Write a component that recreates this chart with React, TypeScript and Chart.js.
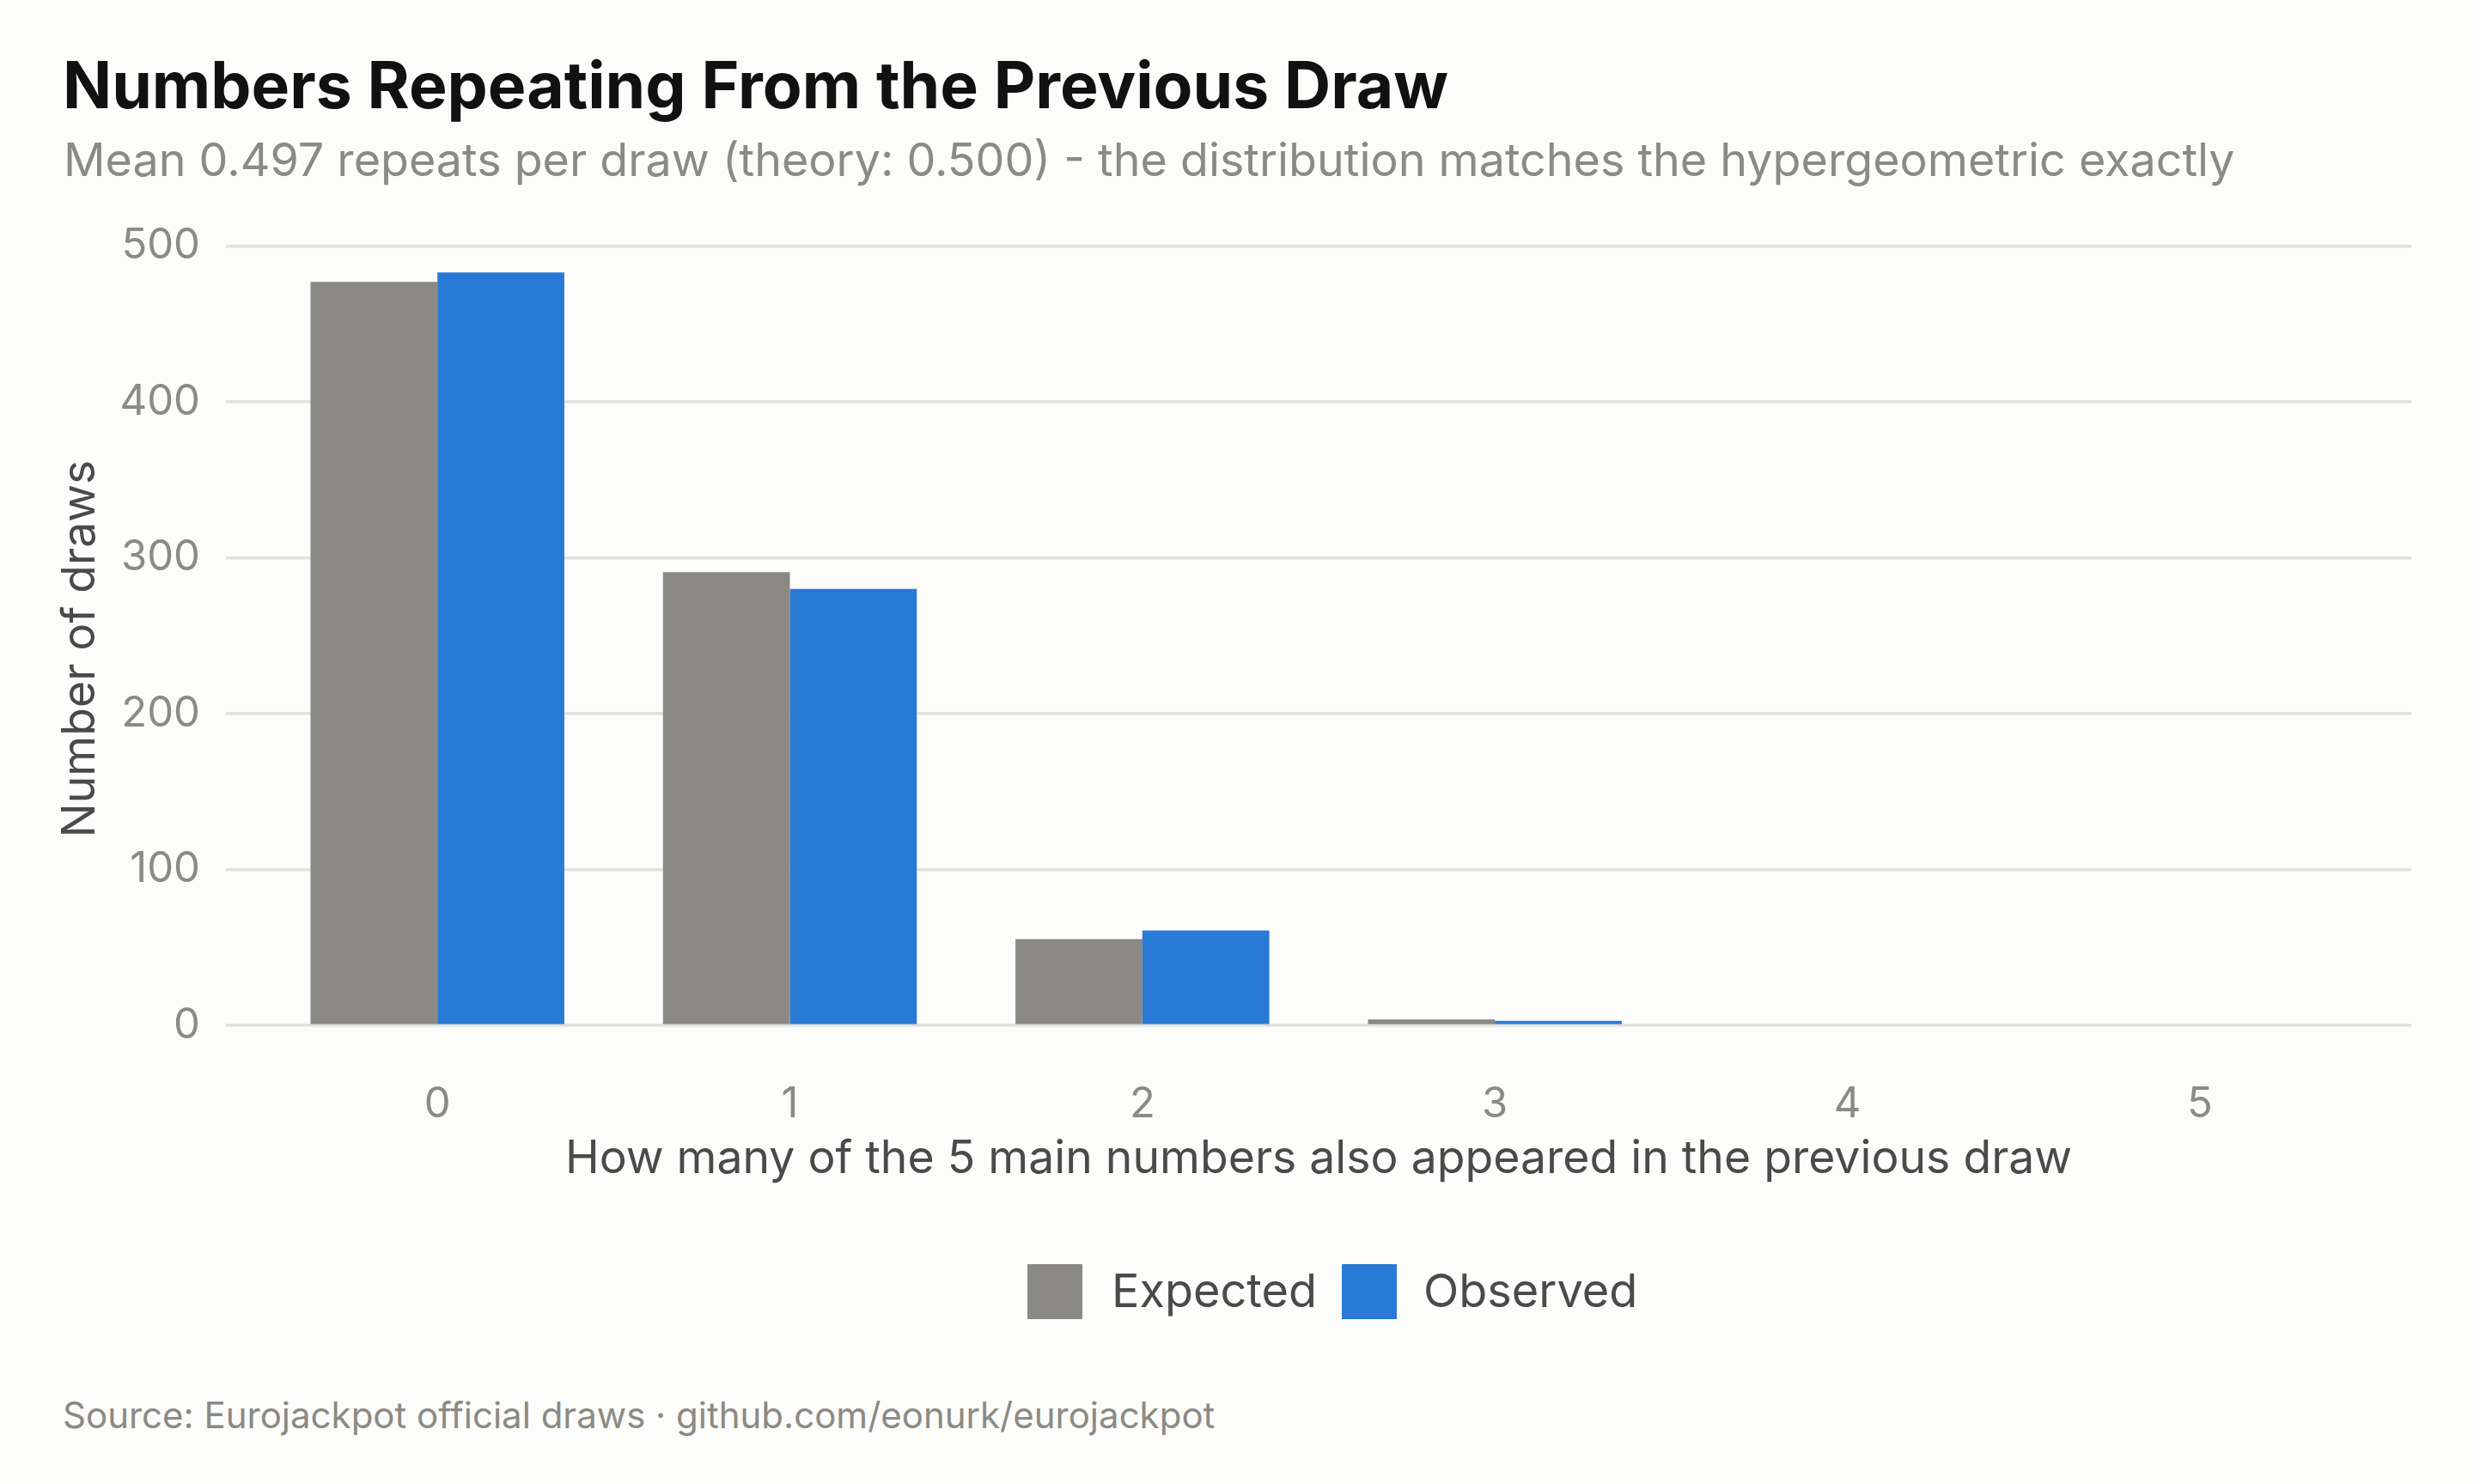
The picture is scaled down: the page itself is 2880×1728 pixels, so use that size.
import { useEffect, useRef } from 'react'
import { Chart, registerables } from 'chart.js'

Chart.register(...registerables)

const categories = ['0', '1', '2', '3', '4', '5']
const expected = [476.9, 290.8, 55.4, 3.9, 0, 0]
const observed = [483, 280, 61, 3, 0, 0]
const yTicks = [0, 100, 200, 300, 400, 500]

const GRAY = '#8a8984'
const BLUE = '#2979d6'
const BG = '#fcfcfa'
const MUTED = '#8b8a85'
const DARK = '#4a4a4a'
const FONT = 'Inter, "Noto Sans", sans-serif'

function RepeatsChart() {
  const canvasRef = useRef<HTMLCanvasElement>(null)
  const chartRef = useRef<Chart | null>(null)

  useEffect(() => {
    if (!canvasRef.current) return
    if (chartRef.current) chartRef.current.destroy()

    chartRef.current = new Chart(canvasRef.current, {
      type: 'bar',
      data: {
        datasets: [
          {
            label: 'Expected',
            data: expected.map((v, i) => ({ x: i, y: v })),
            backgroundColor: GRAY,
            borderWidth: 0,
          },
          {
            label: 'Observed',
            data: observed.map((v, i) => ({ x: i, y: v })),
            backgroundColor: BLUE,
            borderWidth: 0,
          },
        ],
      },
      options: {
        animation: false,
        responsive: true,
        maintainAspectRatio: false,
        categoryPercentage: 0.72,
        barPercentage: 1,
        // the y axis reserves half a label + tick padding (~59px) above the plot itself
        layout: { padding: { left: 0, right: 73, top: 0, bottom: 0 } },
        plugins: {
          legend: { display: false },
          tooltip: { enabled: false },
        },
        scales: {
          x: {
            type: 'linear',
            min: -0.6,
            max: 5.6,
            offset: false,
            grid: { display: false },
            border: { display: false },
            afterBuildTicks: (axis) => {
              axis.ticks = categories.map((_, i) => ({ value: i }))
            },
            afterFit: (axis) => {
              axis.height = 150
            },
            ticks: {
              autoSkip: false,
              maxRotation: 0,
              padding: 11,
              color: MUTED,
              font: { family: FONT, size: 49 },
              callback: (v) => categories[Number(v)],
            },
            title: {
              display: true,
              text: 'How many of the 5 main numbers also appeared in the previous draw',
              color: DARK,
              font: { family: FONT, size: 53.5 },
              padding: { top: 0, bottom: 6 },
            },
          },
          y: {
            min: -24.15,
            max: 507.15,
            grid: { color: '#e2e2dc', lineWidth: 3.5, drawTicks: false },
            border: { display: false },
            afterBuildTicks: (axis) => {
              axis.ticks = yTicks.map((v) => ({ value: v }))
            },
            afterFit: (axis) => {
              axis.width = 263
            },
            ticks: {
              padding: 30,
              color: MUTED,
              font: { family: FONT, size: 49 },
            },
            title: {
              display: true,
              text: 'Number of draws',
              color: DARK,
              font: { family: FONT, size: 53.5 },
              padding: { top: 62, bottom: 0 },
            },
          },
        },
      },
    })

    return () => { chartRef.current?.destroy() }
  }, [])

  return <canvas ref={canvasRef} />
}

export default function App() {
  useEffect(() => {
    document.body.style.margin = '0'
    document.body.style.background = BG
  }, [])

  const text = (extra: React.CSSProperties): React.CSSProperties => ({
    position: 'absolute',
    fontFamily: FONT,
    lineHeight: 1,
    whiteSpace: 'nowrap',
    margin: 0,
    ...extra,
  })

  return (
    <div style={{ position: 'fixed', left: 0, top: 0, width: 2880, height: 1728, background: BG, overflow: 'hidden' }}>
      {/* title + subtitle */}
      <div style={text({ left: 73, top: 61, fontSize: 75, fontWeight: 700, color: '#111111' })}>
        Numbers Repeating From the Previous Draw
      </div>
      <div style={text({ left: 74, top: 159, fontSize: 53.8, color: MUTED })}>
        Mean 0.497 repeats per draw (theory: 0.500) - the distribution matches the hypergeometric exactly
      </div>

      <div style={{ position: 'absolute', left: 0, top: 214, width: 2880, height: 1174 }}>
        <RepeatsChart />
      </div>

      {/* legend */}
      <div style={{ position: 'absolute', left: 1196, top: 1472, width: 64, height: 64, background: GRAY }} />
      <div style={text({ left: 1294, top: 1476, fontSize: 54, color: DARK })}>Expected</div>
      <div style={{ position: 'absolute', left: 1562, top: 1472, width: 64, height: 64, background: BLUE }} />
      <div style={text({ left: 1657, top: 1476, fontSize: 54, color: DARK })}>Observed</div>

      {/* caption */}
      <div style={text({ left: 73, top: 1627, fontSize: 42, color: MUTED })}>
        Source: Eurojackpot official draws · github.com/eonurk/eurojackpot
      </div>
    </div>
  )
}
